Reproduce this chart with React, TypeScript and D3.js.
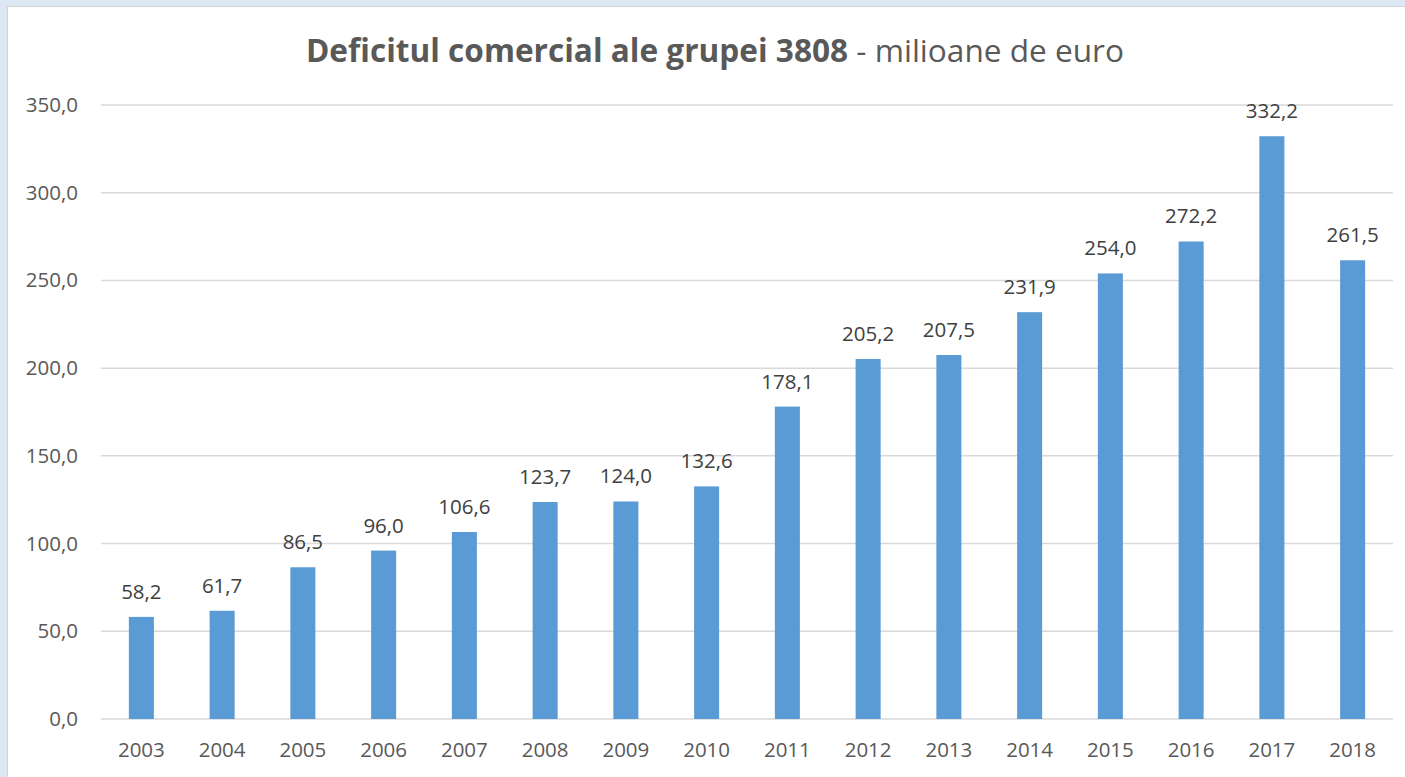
import React from "react";
import * as d3 from "d3";

const years = ["2003","2004","2005","2006","2007","2008","2009","2010","2011","2012","2013","2014","2015","2016","2017","2018"];
const values = [58.2,61.7,86.5,96.0,106.6,123.7,124.0,132.6,178.1,205.2,207.5,231.9,254.0,272.2,332.2,261.5];
const yTicks = [0,50,100,150,200,250,300,350];

const W = 1405, H = 777;
const left = 101, right = 1393, top = 105, bottom = 719;
const font = "'Open Sans', sans-serif";
const fmt = (v: number) => v.toFixed(1).replace(".", ",");

export default function App() {
  const x = d3.scaleBand<string>().domain(years).range([left, right]).paddingInner(0.69).paddingOuter(0.345);
  const y = d3.scaleLinear().domain([0, 350]).range([bottom, top]);
  return (
    <svg width={W} height={H} style={{ position: "absolute", left: 0, top: 0 }}>
      <rect x={0} y={0} width={W} height={H} fill="#dee8f4" />
      <rect x={7.5} y={6.5} width={W} height={H} fill="#ffffff" stroke="#d4d4d4" strokeWidth={1} />
      <text x={715} y={62} textAnchor="middle" fontFamily={font} fontSize={31.6} fill="#595959">
        <tspan fontWeight="bold">Deficitul comercial ale grupei 3808</tspan>
        <tspan> - milioane de euro</tspan>
      </text>
      {yTicks.map(t => (
        <g key={t}>
          <line x1={left} x2={right} y1={y(t)} y2={y(t)} stroke="#d9d9d9" strokeWidth={1.5} />
          <text x={78} y={y(t) + 7} textAnchor="end" fontFamily={font} fontSize={20.5} fill="#595959">{fmt(t)}</text>
        </g>
      ))}
      {years.map((yr, i) => (
        <g key={yr}>
          <rect x={x(yr)} y={y(values[i])} width={x.bandwidth()} height={y(0) - y(values[i])} fill="#5b9bd5" />
          <text x={(x(yr) as number) + x.bandwidth() / 2} y={y(values[i]) - 18} textAnchor="middle" fontFamily={font} fontSize={20.5} fill="#404040">{fmt(values[i])}</text>
          <text x={(x(yr) as number) + x.bandwidth() / 2} y={757} textAnchor="middle" fontFamily={font} fontSize={20.5} fill="#595959">{yr}</text>
        </g>
      ))}
    </svg>
  );
}
